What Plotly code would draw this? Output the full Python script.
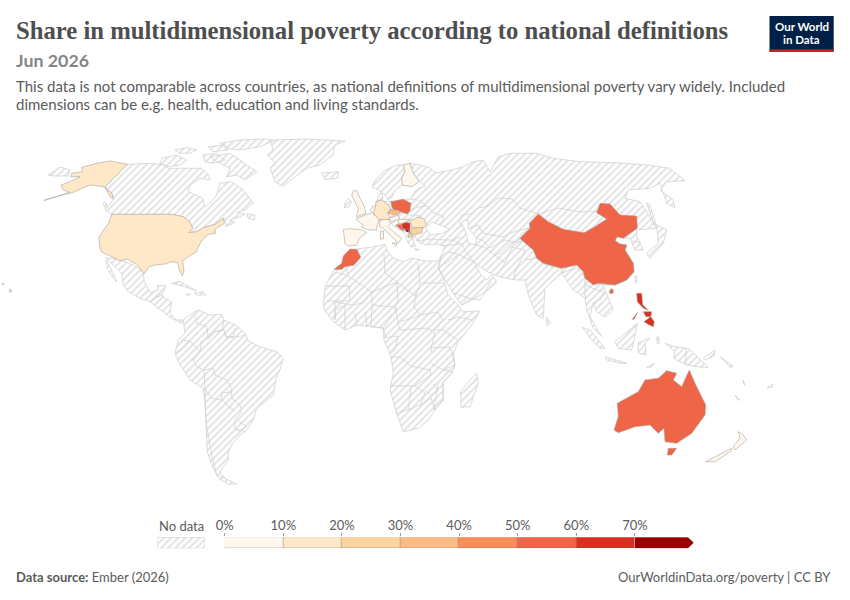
import plotly.graph_objects as go

# Map outlines, in map units (x right, y down)
usa_main = [(111.7,214.3),(171.7,214.3),(183.3,216.7),(190,222.3),(192.7,228.3),(189,232.7),(196.7,231.7),(203.3,227.7),(215,224.3),(223.3,218.3),(224.3,223.3),(215,229.3),(215.7,233.3),(208.3,234.3),(202.3,240),(198.3,246.7),(196.7,251.7),(188.3,256.7),(182.7,261),(184,271.7),(182.3,275.7),(179.3,270),(177.7,262.7),(171.7,261.7),(165,264),(155,265),(149.3,266.7),(144,274),(140,268.3),(136.7,264.3),(130,261),(127.3,259),(120,261),(110,255.7),(101.7,252.3),(99.3,245),(99,236.7),(105,228.3),(109,222.3)]
alaska = [(127.7,164.3),(110,161),(96.7,163.3),(81.7,167.3),(82.3,171.7),(71.7,173.3),(70.7,176.7),(80,176.7),(70,181.7),(61,185),(63.3,190),(69.3,192.3),(44,200.7),(44.7,199.7),(73.3,192.3),(88.3,185),(83.3,187.7),(90,185),(103.3,186.7),(111.7,193.3),(113.3,199),(110,196.7),(105,186.7)]
hawaii = [(2,283),(4,284),(3.5,285)]
hawaii_big = [(9.5,289),(12,291),(10,292.5)]
china = [(520,238.3),(530,228.3),(529.3,223.3),(538.3,214),(548.3,221.7),(563.3,229.3),(584,232.7),(594,227.3),(606.7,219),(596.7,212.7),(600,203.3),(610,204),(620,215),(636.7,216),(637.3,228.3),(623.3,238.3),(617,236.7),(615,240.7),(620,244),(626.7,245),(625,250),(633.3,263.3),(634,271.7),(626.7,280),(615,285),(598.3,283.3),(593.3,285),(585,278.3),(583.3,271.7),(576.7,265),(561.7,268.3),(543.3,263.3),(536.7,258.3),(533.3,250),(521.7,240)]
hainan = [(609.5,291),(611.5,288.5),(613.7,290.5),(612.5,293.5),(610,293.5)]
australia = [(666.7,370.7),(676.7,373.3),(673.3,380),(681.7,386.7),(689.3,370),(695,383.3),(705.7,405),(705,415),(691.7,433.3),(676.7,443.3),(665,441.7),(664,428.3),(658.3,433.3),(650,425),(635,426.7),(618.3,432.7),(614,430),(618.3,416.7),(617.3,403.3),(638.3,391.7),(645,380),(658.3,378.3)]
tasmania = [(668.3,448.3),(676.7,448.3),(671.7,455),(667.3,455)]
morocco = [(334,269.3),(341.7,263.3),(343.3,256),(350,249),(356.7,249.3),(360.7,257.3),(354,265),(345,266.7),(341.7,269.3)]
poland = [(391,201.7),(403.3,199.3),(411,203.3),(410,210.7),(407.3,214),(398.3,211.7),(394,210),(391.7,206.7)]
bosnia = [(395.7,225),(402.3,224),(404,231),(400,229)]
serbia = [(402,222),(410,223),(410,233),(405,230),(402,227)]
kosovo = [(405.5,229.5),(408,229),(409,232),(406.5,232)]
luzon = [(636.7,293.3),(641.7,293.3),(642.7,305),(648.3,310),(643.3,308.3),(637.3,301.7)]
visayas = [(643.3,311.7),(651.7,311.7),(650.7,316.7),(646,316.7)]
mindanao = [(644,321.7),(650.7,316.7),(654.3,321.7),(653.3,326.7),(649.3,325),(646,323.3)]
palawan = [(632.3,319.3),(637.7,312.3),(634,319.3)]
germany = [(376,201.7),(381.7,200),(386,203.3),(390,206.7),(391,210),(387.3,212.7),(391.7,219.3),(378.3,220),(373.3,212.7),(375.7,206.7)]
czechia = [(389.3,210),(398.3,210),(400,213.3),(395,215),(388.3,213.3)]
romania = [(410,221),(418,217),(424,219),(427,225),(423,228),(412,228)]
bulgaria = [(411.7,228.3),(422.7,227.3),(421.7,233),(410,235)]
macedonia = [(408,234),(412,233.5),(412.5,237),(408.5,237.5)]
uk = [(353.3,190.7),(356.7,190.7),(360,198.3),(364.3,206.7),(366,213.3),(356.7,216.7),(358.3,208.3),(354,200),(351.7,195)]
france = [(356.7,218.3),(365,215),(371.7,212.7),(379.3,219.3),(376.7,226.7),(376.7,230),(368.3,230),(361.7,227.3),(363.3,225),(356.7,220)]
iberia = [(343.3,229.3),(350,228.7),(362.3,230),(366.7,232.3),(359.3,238.3),(356.7,245),(348.3,246),(345,244)]
italy = [(380,220),(388.3,219.3),(391,223.3),(388.3,226.7),(393.3,231.7),(401.7,238.3),(398.3,243.3),(390,235),(383.3,228.3),(379.3,226.7)]
sardinia = [(380.5,231),(383.5,231),(383.5,239),(380.5,239)]
sicily = [(392,243),(397,243),(396,246)]
austria = [(388,218.5),(398.3,215),(400,219.3),(392,221.5)]
hungary = [(398.3,219.3),(410,219.3),(403.3,223.3),(398.3,223.3)]
finland = [(403.3,165),(410,163.3),(413.3,173),(419.3,181.7),(411.7,186.7),(402.7,185),(401.7,178.3),(405,171.7)]
nz_south = [(705.7,461.7),(731.7,448.3),(731.7,450.7),(715,461.7)]
nz_north = [(733.3,446.7),(740,438.3),(738.3,431.7),(741.7,433.3),(746.7,440),(735,450)]

# share of people in multidimensional poverty, binned value
shaded_shapes = [usa_main, alaska, hawaii, hawaii_big, china, hainan, australia, tasmania, morocco, poland, bosnia, serbia, kosovo, luzon, visayas, mindanao, palawan, germany, czechia, romania, bulgaria, macedonia, uk, france, iberia, italy, sardinia, sicily, austria, hungary, finland, nz_south, nz_north]
shaded_values = [15, 15, 15, 15, 55, 55, 55, 55, 55, 55, 55, 65, 75, 65, 65, 65, 65, 15, 35, 15, 25, 25, 5, 5, 5, 5, 5, 5, 5, 5, 5, 5, 5]

canada = [(127.7,164.3),(150,163.3),(163.3,165),(168.3,168.3),(186.7,168.3),(201.7,168.3),(208.3,175),(210,180),(200,178.3),(190,185),(188.3,191.7),(202.7,198.3),(205,206.7),(210,203.3),(216.7,195),(220,183.3),(231.7,181.7),(243.3,190),(253.3,203.3),(245,210),(236.7,212.3),(245,214),(240,216.7),(230,220),(235,222.3),(226,226.7),(224.3,218.3),(215,224.3),(203.3,227.7),(196.7,231.7),(189,232.7),(192.7,228.3),(190,222.3),(183.3,216.7),(171.7,214.3),(111.7,214.3),(105,210),(114,199),(111.7,193.3),(105,186.7)]
baffin = [(230,153.3),(240,160),(256.7,171.7),(245,180),(236.7,175),(226.7,176.7),(230,168.3),(216.7,161.7),(210,156.7)]
victoria = [(161.7,158.3),(176.7,155),(186.7,160),(180,165),(168.3,166.7),(160,163.3)]
banks = [(175,150),(186.7,147.7),(196.7,150),(190,153.3),(180,153.3)]
ellesmere = [(220,143.3),(240,140),(266.7,139),(273.3,141),(260,146.7),(240,150),(226.7,148.3)]
somerset = [(203,155),(216.7,153.3),(225,160),(213.3,163.3),(205,161.7)]
devon = [(208,146.7),(225,145),(228,150),(213,151.7)]
newfoundland = [(247,214),(255,215),(254,220),(248,218)]
vancouver = [(104,201.7),(107,204),(106,209),(103.5,205)]
greenland = [(270,140),(306.7,139),(345,141),(335,145),(333,155),(320,165),(306.7,168.3),(283,186),(275,182),(270,168),(275,163),(267,155),(273,150)]
iceland = [(321.7,173),(338,171.7),(338,178),(325,179.7)]
chukotka = [(48,175),(60,167),(70,170),(68,176),(55,176)]
mexico = [(106,257.7),(115,259),(125,261.7),(136.7,266.7),(143.3,273.3),(144.3,281.7),(150,292.3),(158.3,290),(157.3,285.7),(166,285.7),(161.7,295),(158.3,296.7),(155,297.7),(150,301.7),(140,298.3),(128.3,291.7),(123.3,285),(121.7,273.3),(110,261.7)]
baja = [(106,260),(111.7,270),(116.7,281.7),(113.3,278.3),(107.3,268.3)]
central_america = [(150,301.7),(155,297.7),(161.7,295),(165,298.3),(171.7,301.7),(170,313.3),(176.7,320),(183.3,320),(181.7,323.3),(171.7,318.3),(165,313.3),(156.7,306.7)]
cuba = [(171.7,283.3),(180,281),(191.7,288.3),(196.7,291),(185,286.7)]
hispaniola = [(194.3,293.3),(203.3,291.7),(206.7,295),(196.7,295)]
jamaica = [(186,294),(190,294),(188,295.5)]
south_america = [(183.3,320),(187.3,316.7),(195,311.7),(198.3,310),(210,315),(221.7,314.3),(224,320),(236.7,325.7),(245,333.3),(248.3,341),(260,346.7),(276.7,351.7),(283.3,358.3),(280,370),(276,378.3),(273.3,395),(265,401.7),(256.7,408.3),(253.3,420),(246.7,430),(238.3,436.7),(231.7,445),(228.3,451.7),(228.3,460),(220,471.7),(225,478.3),(236.7,484),(228.3,484.3),(218.3,478.3),(211.7,465),(207.3,451.7),(206,428.3),(205,401.7),(203.3,388.3),(190,380),(178.3,361.7),(175,353.3),(178.3,340),(185,333.3)]
africa = [(356.7,249),(372,247),(385,244.5),(388,252),(392,257),(403,262),(412,258),(425,261),(437,261),(441,257),(440,263),(438.3,266.7),(443.3,278.3),(448.3,295),(459,306),(463.3,311.7),(480,311),(471.7,325),(458.3,341.7),(453.3,353.3),(455,365),(453.3,370.7),(443.3,381.7),(443.3,400),(435,410),(428.3,420),(418.3,428.3),(403.3,431.7),(396.7,413.3),(390,390),(393.3,373.3),(391,356.7),(384,340),(383.3,328.3),(373.3,326.7),(356.7,325),(345,330),(333.3,321.7),(324.3,310),(323.3,305),(325,286.7),(334.3,269.3),(341.7,269.3),(345,266.7),(354,265),(360.7,257.3)]
madagascar = [(476.7,373.3),(478.3,383.3),(470,406.7),(461,407.3),(460.7,391.7),(468.3,381.7)]
ireland = [(348.3,198.3),(351.7,201.7),(349.3,206.7),(344,207.7),(345,202.7)]
scandinavia = [(372,187),(375,180),(384,171),(396,165),(403,165),(405,171),(401.7,178),(402.7,185),(395,190),(392,197),(388,200),(384,194),(380,191)]
benelux = [(370,210),(372,206.7),(376,205),(375.7,207),(373.3,212.7),(371.7,212.7)]
denmark = [(378,197),(380,193),(382,193),(383,198),(382,201),(377,201)]
eurasia = [(376,201.7),(381,201),(391,201.7),(403.3,199.3),(411,199),(414,192),(419,188),(425,186),(419.3,181.7),(413.3,173),(410,163.3),(420,165),(430,168),(436,173),(441,172),(452,170),(463.3,166.7),(473.3,161.7),(483.3,160),(490,171.7),(498.3,156.7),(510,153.3),(536.7,153.3),(553.3,158.3),(580,161.7),(616.7,162.7),(646.7,165),(670,168.3),(685,180.7),(666.7,181.7),(660,190),(673.3,200),(675,208.3),(666.7,203.3),(660,183.3),(650,188.3),(628.3,190),(625,198.3),(640,201.7),(646.7,211.7),(656.7,228.3),(636.7,230),(636.7,236.7),(643.3,250),(635,250),(630,238.3),(623.3,238.3),(617,236.7),(615,240.7),(620,244),(626.7,245),(625,250),(633.3,263.3),(634,271.7),(626.7,280),(615,285),(603,285),(613.3,310),(605,317.3),(596.7,311.7),(593,303),(590,316.7),(601.7,336.7),(593,328),(586.7,310),(585,298.3),(573.3,290),(561.7,273),(545,288.3),(543.3,318.3),(536.7,315),(528.3,295),(525,280),(515,280),(496.7,276),(488,272),(475,263.3),(480,273.3),(486.7,280),(491.7,275),(496.7,281.7),(488.3,290),(475,298.3),(461.7,305),(453.3,293.3),(438.3,268.3),(441,256),(445,246),(437,244),(425,245),(417,241),(415,235),(413,238),(414,243),(416,246),(411,247),(408,243),(405,236),(404,232),(396,228),(390,222),(379,220),(378,216)]
taiwan = [(634.7,276.7),(637.3,276.7),(636,283.3)]
japan = [(656.7,225),(666.7,230),(663.3,243.3),(650,258.3),(646.7,253.3),(658.3,243.3)]
sakhalin = [(646.7,203),(650,205),(656,225),(654,225)]
sri_lanka = [(546,316.7),(550.7,323.3),(547.3,325.7)]
sumatra = [(582.3,327.3),(590,330),(605,348.3),(600,348.3),(591.7,340)]
java = [(605,356.7),(626.7,363.3),(620,363.3),(606.7,360)]
borneo = [(615,341.7),(623,335),(637.3,323.3),(635,335),(631.7,350),(618.3,348.3)]
sulawesi = [(638,343),(650,338),(645,343),(646,355),(638.3,353)]
new_guinea = [(665,343.3),(675,346.7),(688.3,348.3),(708.3,367.3),(701.7,367.3),(686.7,365),(673.3,358.3),(675,351.7)]
timor = [(646.7,367.3),(655,363.3),(650,368)]
halmahera = [(656.7,337),(659,337),(659,344),(657,343)]
new_britain = [(703.3,358.3),(715,350),(714,356),(705,360)]
solomons = [(720,356.7),(733,366),(731,368)]
vanuatu = [(743,380),(745,385),(744,385)]
new_caledonia = [(735,395),(740,400),(738,400)]
fiji = [(767,388),(773,384),(772,387)]
crete = [(415,248.5),(420,249.5),(416,250.5)]
hatched_shapes = [canada, baffin, victoria, banks, ellesmere, somerset, devon, newfoundland, vancouver, greenland, iceland, chukotka, mexico, baja, central_america, cuba, hispaniola, jamaica, south_america, africa, madagascar, ireland, scandinavia, benelux, denmark, eurasia, taiwan, japan, sakhalin, sri_lanka, sumatra, java, borneo, sulawesi, new_guinea, timor, halmahera, new_britain, solomons, vanuatu, new_caledonia, fiji, crete]

# inland seas sit on top of the land
caspian = [(461.7,221.7),(468.3,220),(468.3,228.3),(476.7,238.3),(475,245),(468.3,243.3),(466.7,235)]
black_sea = [(426,228),(432,222),(440,225),(450,229),(443,233),(430,235)]
water_shapes = [caspian, black_sea]

borders = [
    # South America
    [(195,316.7),(196.7,323.3),(206.7,326.7),(208.3,338.3),(215,331.7),(221.7,330)],
    [(224,320),(222.7,326.7),(226,336.7),(233.3,336.7),(235,327.7)],
    [(245,335),(238.3,336.7),(226.7,337.7),(224,330),(215,331.7),(208.3,338.3),(201.7,341),(200,351.7),(193.3,360),(196.7,366.7),(204,370),(213.3,368.3),(215,375),(226.7,380),(231.7,388.3),(231.7,398.3),(240,405),(241.7,411.7),(235,420),(235,428.3),(245,431.7)],
    [(176,352.3),(181.7,350),(190,341),(181.7,340)],
    [(190,341),(200,351.7)],
    [(204,370),(205,388.3),(211.7,398.3),(221.7,400),(221.7,393.3),(231.7,391.7)],
    [(221.7,400),(235,411.7)],
    [(205,388.3),(206,421.7),(211.7,455),(216.7,475),(225,478.3)],
    [(235,428.3),(238.3,431.7),(246.7,426.7),(238.3,421)],
    # Africa
    [(325,286),(349,286),(350,301),(327,301)],
    [(335,272),(348,276),(372,292),(363,303),(352,305),(335,302),(335,320)],
    [(347,270),(348,276)],
    [(384,254),(385,273),(397,282),(372,292)],
    [(418,263),(420,283),(445,283)],
    [(397,282),(416,297),(420,284)],
    [(397,282),(398,303),(395,307),(398,322),(413,318),(420,315),(414,307),(416,292)],
    [(372,292),(372,305),(395,307)],
    [(372,305),(371,327),(383,328),(397,308)],
    [(398,322),(400,330),(427,328),(435,333),(431,348),(432,353)],
    [(420,315),(438,312),(443,320),(433,330),(443,330),(458,340)],
    [(448,320),(458,317),(473,320)],
    [(383,338),(398,336),(395,350),(391,353)],
    [(391,357),(400,357),(411,366),(430,370),(431,375),(415,386),(390,386)],
    [(431,348),(450,347),(455,365),(443,370),(431,363)],
    [(443,370),(453,372),(443,383),(443,400),(434,410),(438,383)],
    [(415,386),(425,393),(420,405),(408,410)],
    [(411,388),(408,410),(396,413)],
    [(433,384),(438,390),(431,396),(425,390)],
    [(420,405),(431,398),(435,410)],
    [(345,305),(335,310),(335,320)],[(345,305),(345,330)],[(355,313),(357,326)],[(365,312),(367,327)],
    [(383,328),(386,337)],
    # Europe and Russia
    [(411,199),(418,200),(427,206),(432,212),(444,217),(442,222),(438,225)],
    [(411,210),(418,207),(427,206)],
    [(410,215),(420,216),(426,222)],
    [(417,241),(430,239),(445,240),(452,240),(460,237)],
    [(452,240),(462,244),(466,252),(471,258),(475,263)],
    [(442,246),(452,245),(462,244)],
    [(441,256),(448,252),(458,254),(475,263)],
    [(438,268),(458,255)],
    [(453,293),(469,298),(480,300),(491,282)],
    [(470,298),(462,305)],
    # Central Asia
    [(462,215),(470,214),(478,208),(488,206),(498,198),(512,199),(520,208),(538,214)],
    [(538,214),(558,208),(580,212),(597,211)],
    [(462,215),(459,222),(462,228)],
    [(468,228),(478,225),(483,233),(503,237),(510,233),(529,228)],
    [(476,238),(482,240),(490,248),(500,243),(505,240),(515,242),(522,238)],
    [(475,245),(484,247),(495,255),(500,253),(510,243),(530,240)],
    [(495,255),(505,263),(497,275)],
    [(505,263),(512,247),(522,240)],
    [(512,247),(525,250),(522,258),(515,272),(514,280)],
    [(525,260),(537,258),(546,265),(561,268),(562,273)],
    [(562,273),(570,270),(578,268),(585,278),(585,298)],
    [(585,285),(597,290),(604,292),(600,300),(593,303)],
    [(597,284),(603,285)],
    [(632,241),(641,243)],
    # New Guinea
    [(686,348),(686,365)],
]

# Legend
bin_edges = [0, 10, 20, 30, 40, 50, 60, 70]
bin_labels = ['0%', '10%', '20%', '30%', '40%', '50%', '60%', '70%']
bin_colors = ['#fff7ec', '#fee8c8', '#fdd49e', '#fdbb84', '#fc8d59', '#ef6548', '#d7301f', '#990000']

border_col = '#d2d2d2'
shaded_line = '#a8a29b'
text_col = '#5b5b5b'
hatch = dict(shape='/', size=5, solidity=0.35, fgcolor='#e2e2e2', bgcolor='white')


def color_for(value):
    return bin_colors[min(int(value // 10), len(bin_colors) - 1)]


def closed_xy(points):
    xs = [p[0] for p in points] + [points[0][0]]
    ys = [p[1] for p in points] + [points[0][1]]
    return xs, ys


fig = go.Figure()

# no data land, all hatched
hx, hy = [], []
for shape in hatched_shapes:
    xs, ys = closed_xy(shape)
    hx += xs + [None]
    hy += ys + [None]
fig.add_trace(go.Scatter(
    x=hx, y=hy, mode='lines', fill='toself',
    line=dict(color=border_col, width=0.8),
    fillcolor='white', fillpattern=hatch,
    hoverinfo='skip', showlegend=False
))

for shape in water_shapes:
    xs, ys = closed_xy(shape)
    fig.add_trace(go.Scatter(
        x=xs, y=ys, mode='lines', fill='toself', fillcolor='white',
        line=dict(color=border_col, width=0.8), hoverinfo='skip', showlegend=False
    ))

bx, by = [], []
for line in borders:
    bx += [p[0] for p in line] + [None]
    by += [p[1] for p in line] + [None]
fig.add_trace(go.Scatter(
    x=bx, y=by, mode='lines', line=dict(color=border_col, width=0.8),
    hoverinfo='skip', showlegend=False
))

for shape, value in zip(shaded_shapes, shaded_values):
    xs, ys = closed_xy(shape)
    fig.add_trace(go.Scatter(
        x=xs, y=ys, mode='lines', fill='toself', fillcolor=color_for(value),
        line=dict(color=shaded_line, width=0.6), hoverinfo='skip', showlegend=False
    ))

# Legend bins on their own little axis
fig.add_trace(go.Bar(
    x=[10] * 7, base=bin_edges, y=[0] * 7, orientation='h', width=1,
    marker=dict(color=bin_colors[:7], line=dict(color='rgba(90,90,90,0.35)', width=0.8)),
    xaxis='x2', yaxis='y2', hoverinfo='skip', showlegend=False
))
fig.add_trace(go.Scatter(
    x=[70, 79, 80, 79, 70], y=[-0.5, -0.5, 0, 0.5, 0.5], mode='lines', fill='toself',
    fillcolor=bin_colors[7], line=dict(color=bin_colors[7], width=0.5),
    xaxis='x2', yaxis='y2', hoverinfo='skip', showlegend=False
))

# No data swatch
fig.add_trace(go.Scatter(
    x=[0, 1, 1, 0, 0], y=[0, 0, 1, 1, 0], mode='lines', fill='toself',
    line=dict(color='#c8c8c8', width=0.8), fillcolor='white', fillpattern=hatch,
    xaxis='x3', yaxis='y3', hoverinfo='skip', showlegend=False
))

fig.update_layout(
    template='none',
    width=850, height=600,
    margin=dict(l=0, r=0, t=0, b=0, autoexpand=False),
    plot_bgcolor='white', paper_bgcolor='white',
    bargap=0,
    font=dict(family='Lato', color=text_col),
    xaxis=dict(range=[0, 850], visible=False, fixedrange=True, automargin=False),
    yaxis=dict(range=[600, 0], visible=False, fixedrange=True, automargin=False),
    xaxis2=dict(
        domain=[224.7 / 850, 693.5 / 850], range=[0, 80], anchor='y2', side='top',
        tickvals=bin_edges, ticktext=bin_labels, ticks='outside', ticklen=3,
        tickcolor='#a0a0a0', tickwidth=1, showgrid=False, zeroline=False, showline=False,
        ticklabelstandoff=-2,
        automargin=False, tickfont=dict(family='Lato', size=13, color=text_col)
    ),
    yaxis2=dict(
        domain=[1 - 548.3 / 600, 1 - 537.3 / 600], range=[-0.5, 0.5], anchor='x2',
        visible=False, automargin=False
    ),
    xaxis3=dict(domain=[157.5 / 850, 204.7 / 850], range=[0, 1], anchor='y3', visible=False, automargin=False),
    yaxis3=dict(domain=[1 - 548.3 / 600, 1 - 537.3 / 600], range=[0, 1], anchor='x3', visible=False, automargin=False),
    shapes=[
        dict(type='rect', xref='paper', yref='paper', x0=769.5 / 850, x1=833.7 / 850,
             y0=1 - 51.7 / 600, y1=1 - 16 / 600, fillcolor='#002147', line_width=0),
        dict(type='rect', xref='paper', yref='paper', x0=769.5 / 850, x1=833.7 / 850,
             y0=1 - 51.7 / 600, y1=1 - 49.5 / 600, fillcolor='#ce261e', line_width=0),
    ],
)


def put_text(text, x, y, size, color=text_col, family='Lato', anchor='left'):
    fig.add_annotation(
        text=text, xref='paper', yref='paper', x=x / 850, y=1 - y / 600,
        xanchor=anchor, yanchor='middle', showarrow=False, align=anchor,
        font=dict(family=family, size=size, color=color), borderpad=0, borderwidth=0
    )


put_text('<b>Share in multidimensional poverty according to national definitions</b>', 16, 30, 24.7, '#4e4e4e', 'Liberation Serif')
put_text('<b>Jun 2026</b>', 16, 60, 17.8, '#858585')
put_text('This data is not comparable across countries, as national definitions of multidimensional poverty vary widely. Included', 16, 86, 15)
put_text('dimensions can be e.g. health, education and living standards.', 16, 104, 15)
put_text('<b>Our World</b>', 801.6, 26.7, 11.5, 'white', anchor='center')
put_text('<b>in Data</b>', 801.6, 39.3, 11.5, 'white', anchor='center')
put_text('No data', 181, 525.5, 13, text_col, anchor='center')
put_text('<b>Data source:</b> Ember (2026)', 16, 576.5, 13)
put_text('OurWorldinData.org/poverty | CC BY', 831, 576.5, 13, anchor='right')

# the page's default body margin would push the 850x600 figure off by 8px
fig.write_html("out.html", config={'displayModeBar': False}, post_script="document.body.style.margin = '0';")
